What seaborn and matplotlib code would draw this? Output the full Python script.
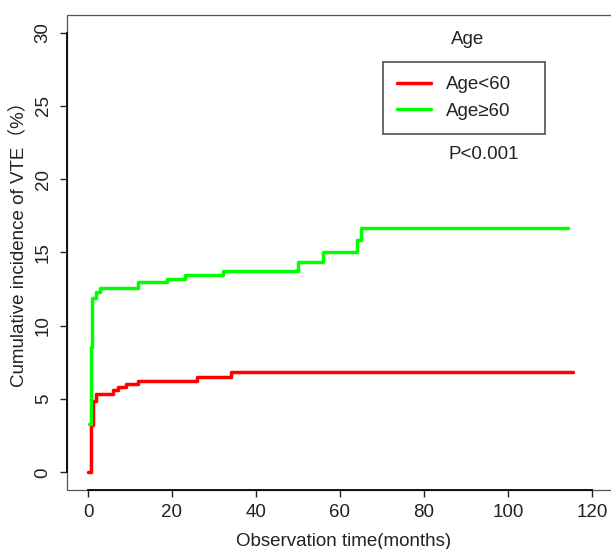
import matplotlib
matplotlib.use("Agg")
from matplotlib import pyplot as plt
from matplotlib.patches import Rectangle
import pandas as pd
import seaborn as sns

# Curvas de incidência acumulada
tempo_menor60 = [0, 0.6, 1.1, 1.8, 6.0, 7.1, 9.1, 12.0, 26.0, 34.0, 115.4]
inc_menor60 = [0, 3.2, 4.9, 5.35, 5.6, 5.8, 6.0, 6.23, 6.48, 6.85, 6.85]

tempo_maior60 = [0.25, 0.6, 0.9, 1.8, 2.8, 12.0, 18.9, 23.1, 32.1, 50.1, 56.0, 64.1, 65.0, 114.4]
inc_maior60 = [3.3, 8.55, 11.9, 12.3, 12.55, 12.97, 13.2, 13.45, 13.72, 14.36, 15.0, 15.84, 16.7, 16.7]

grupos = ["Age<60", "Age\u226560"]
cores = ["#FF0000", "#00FF00"]
xticks = [0, 20, 40, 60, 80, 100, 120]
yticks = [0, 5, 10, 15, 20, 25, 30]

dados = pd.concat([
    pd.DataFrame({"tempo": tempo_menor60, "inc": inc_menor60, "grupo": grupos[0]}),
    pd.DataFrame({"tempo": tempo_maior60, "inc": inc_maior60, "grupo": grupos[1]}),
])

sns.set_style("ticks")
plt.rcParams["font.family"] = ["Liberation Sans", "Noto Sans CJK SC", "DejaVu Sans"]
plt.rcParams["font.size"] = 13.5

W, H = 611, 549
fig = plt.figure(figsize=(W / 100, H / 100), dpi=100)
ax = fig.add_axes([67 / W, 1 - 490 / H, (634 - 67) / W, (490 - 15) / H])

sns.lineplot(data=dados, x="tempo", y="inc", hue="grupo", palette=cores,
             drawstyle="steps-post", estimator=None, linewidth=2.5, ax=ax)

ax.set_xlim(-5, 130)
ax.set_ylim(-1.2, 31.2)
ax.set_xticks(xticks)
ax.set_yticks(yticks)
ax.set_yticklabels([str(v) for v in yticks], rotation=90, va="center")
ax.tick_params(axis="both", length=5, width=1, color="#222222", labelsize=13.5,
               labelcolor="#222222")
ax.tick_params(axis="x", pad=5)
ax.tick_params(axis="y", pad=6)

# caixa fina + eixos estilo R
for lado in ["top", "right", "left", "bottom"]:
    ax.spines[lado].set_visible(False)
ax.add_patch(Rectangle((0, 0), 1, 1, transform=ax.transAxes, fill=False,
                       edgecolor="#555555", linewidth=0.9, clip_on=False))
for lado, lim in [("left", (0, 30)), ("bottom", (0, 120))]:
    ax.spines[lado].set_visible(True)
    ax.spines[lado].set_bounds(*lim)
    ax.spines[lado].set_linewidth(1.4)
    ax.spines[lado].set_color("#111111")

ax.set_xlabel("Observation time(months)", fontsize=13.5, color="#222222", va="center")
ax.set_ylabel("Cumulative incidence of VTE（%）", fontsize=13.5, color="#222222", va="center")
ax.xaxis.set_label_coords(0.487, -(541 - 490) / 475)
ax.yaxis.set_label_coords((18 - 67) / 567, (490 - 240) / 475)

# legenda: caixa 383-545 px em x, topo em 62 px
handles, labels = ax.get_legend_handles_labels()
leg = ax.legend(handles, labels, loc="upper left",
                bbox_to_anchor=(383 / W, 1 - 132 / H, (545 - 383) / W, (132 - 62) / H),
                mode="expand", bbox_transform=fig.transFigure, frameon=True, fancybox=False,
                edgecolor="#222222", borderaxespad=0, borderpad=0.75,
                handlelength=1.8, handletextpad=0.8, labelspacing=0.5, fontsize=13.5)
leg.get_frame().set_linewidth(1.2)
for t in leg.get_texts():
    t.set_color("#222222")

fig.text(468 / W, 1 - 40 / H, "Age", ha="center", va="center", fontsize=13.5, color="#222222")
fig.text(484 / W, 1 - 155 / H, "P<0.001", ha="center", va="center", fontsize=13.5, color="#222222")

fig.savefig("out.png", dpi=100)
